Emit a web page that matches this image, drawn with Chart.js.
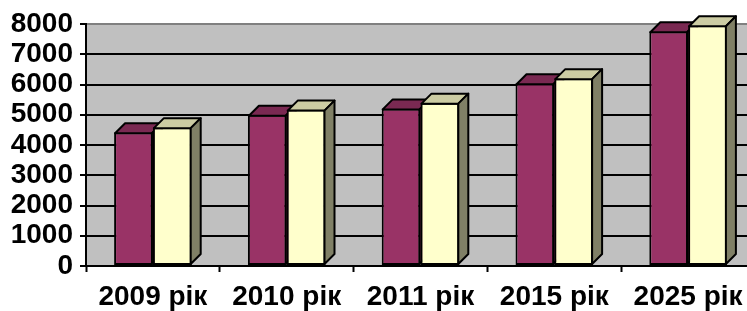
<!DOCTYPE html>
<html>
<head>
<meta charset="utf-8">
<script src="https://cdn.jsdelivr.net/npm/chart.js@4.4.1/dist/chart.umd.min.js"></script>
<style>
    html, body { margin: 0; padding: 0; background: #fff; overflow: hidden; }
    #wrap { width: 747px; height: 311px; overflow: hidden; }
</style>
</head>
<body>
<div id="wrap"><canvas id="myChart" width="770" height="311"></canvas></div>
<script>
//--- Dados
var categories = ['2009 рік', '2010 рік', '2011 рік', '2015 рік', '2025 рік'];
var series1 = [4420, 5000, 5210, 6040, 7760];
var series2 = [4590, 5170, 5400, 6210, 7960];
var yTicks = [0, 1000, 2000, 3000, 4000, 5000, 6000, 7000, 8000];

//--- Cores
var frontColors = ['#993366', '#FFFFCC'];
var topColors = ['#7A2952', '#CCCCA3'];
var sideColors = ['#5C1F3D', '#808066'];
var DEPTH = 10;

// fundo cinzento da area do grafico
var plotBg = {
    id: 'plotBg',
    beforeDraw: function (chart) {
        var a = chart.chartArea;
        var ctx = chart.ctx;
        ctx.save();
        ctx.fillStyle = '#C0C0C0';
        ctx.fillRect(a.left, a.top, a.right - a.left, a.bottom - a.top);
        ctx.restore();
    }
};

function face(ctx, pts, color) {
    ctx.beginPath();
    ctx.moveTo(pts[0][0], pts[0][1]);
    for (var i = 1; i < pts.length; i++) ctx.lineTo(pts[i][0], pts[i][1]);
    ctx.closePath();
    ctx.fillStyle = color;
    ctx.fill();
    ctx.stroke();
}

function drawFaces(ctx, bar, k) {
    var p = bar.getProps(['x', 'y', 'base', 'width']);
    var l = p.x - p.width / 2 + 1;
    var r = p.x + p.width / 2 - 1;
    var t = p.y + 1;
    var b = p.base - 1;
    face(ctx, [[l, t], [l + DEPTH, t - DEPTH], [r + DEPTH, t - DEPTH], [r, t]], topColors[k]);
    face(ctx, [[r, t], [r + DEPTH, t - DEPTH], [r + DEPTH, b - DEPTH], [r, b]], sideColors[k]);
}

// topo e lado das colunas (efeito 3D)
var bars3d = {
    id: 'bars3d',
    afterDatasetsDraw: function (chart) {
        var ctx = chart.ctx;
        var m0 = chart.getDatasetMeta(0);
        var m1 = chart.getDatasetMeta(1);
        ctx.save();
        ctx.strokeStyle = '#000';
        ctx.lineWidth = 2;
        ctx.lineJoin = 'round';
        m0.data.forEach(function (bar, i) {
            drawFaces(ctx, bar, 0);
            var b1 = m1.data[i];
            b1.draw(ctx);
            ctx.strokeStyle = '#000';
            ctx.lineWidth = 2;
            drawFaces(ctx, b1, 1);
        });
        ctx.restore();
    }
};

Chart.defaults.font.family = "'Liberation Sans', Arial, sans-serif";
Chart.defaults.font.size = 28;
Chart.defaults.font.weight = 'bold';
Chart.defaults.color = '#000';

const ctx = document.getElementById('myChart');
var chart = new Chart(ctx, {
    type: 'bar',
    data: {
        labels: categories,
        datasets: [{
            label: 'series1',
            data: series1,
            backgroundColor: frontColors[0],
            borderColor: '#000',
            borderWidth: 2,
            borderSkipped: false
        }, {
            label: 'series2',
            data: series2,
            backgroundColor: frontColors[1],
            borderColor: '#000',
            borderWidth: 2,
            borderSkipped: false
        }]
    },
    options: {
        responsive: false,
        animation: false,
        categoryPercentage: 0.58,
        barPercentage: 1.0,
        layout: {
            padding: { top: 24, right: 15, left: 0, bottom: 0 }
        },
        plugins: {
            legend: { display: false },
            tooltip: { enabled: false }
        },
        scales: {
            x: {
                grid: {
                    drawOnChartArea: false,
                    drawTicks: true,
                    tickLength: 6,
                    tickColor: '#000',
                    tickWidth: 2
                },
                border: { display: true, color: '#000', width: 2 },
                ticks: { padding: 8, maxRotation: 0, autoSkip: false },
                afterFit: function (scale) { scale.height = 45; }
            },
            y: {
                min: 0,
                max: 8000,
                afterBuildTicks: function (scale) {
                    scale.ticks = yTicks.map(function (v) { return { value: v }; });
                },
                grid: {
                    color: function (c) { return c.tick && c.tick.value === 8000 ? '#808080' : '#000'; },
                    lineWidth: 2,
                    tickLength: 6,
                    tickColor: '#000',
                    tickWidth: 2
                },
                border: { display: true, color: '#000', width: 2 },
                ticks: {
                    padding: 7,
                    autoSkip: false,
                    callback: function (v) { return String(v); }
                },
                afterFit: function (scale) { scale.width = 86; }
            }
        }
    },
    plugins: [plotBg, bars3d]
});
console.log('chart ready', chart.chartArea);
</script>
</body>
</html>
